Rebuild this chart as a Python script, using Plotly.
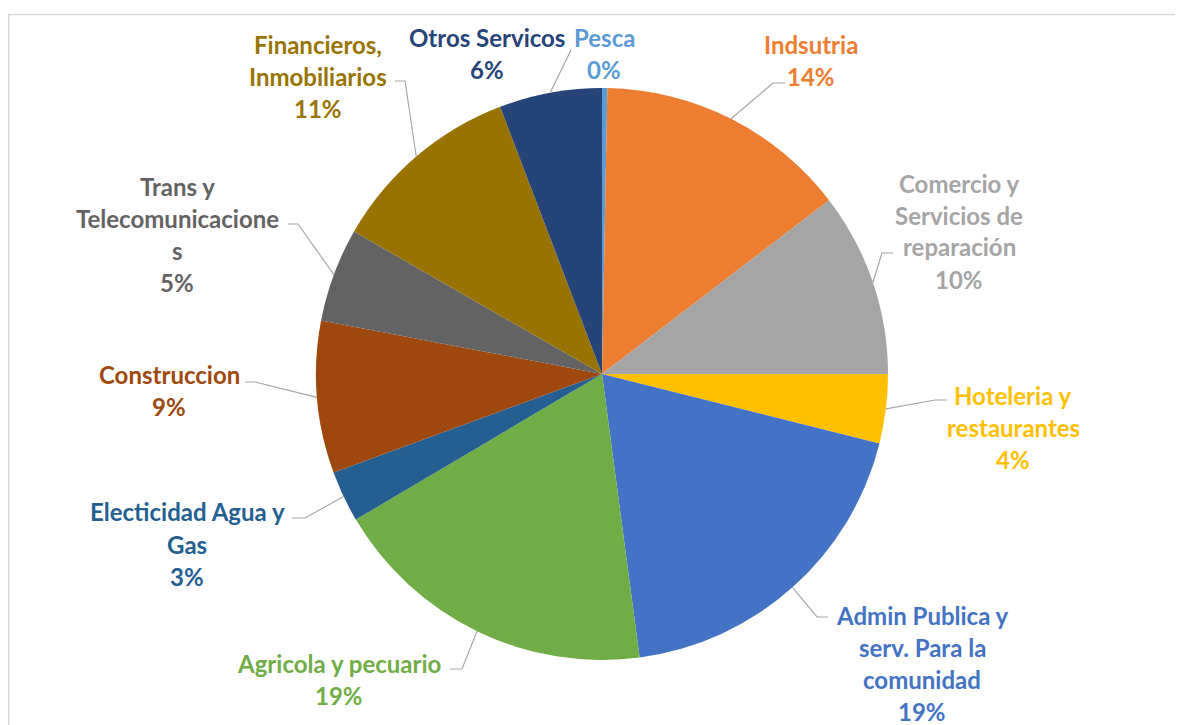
import math
import plotly.graph_objects as go

# ---------------- data ----------------
categories = ["Pesca", "Indsutria", "Comercio y Servicios de reparación",
              "Hoteleria y restaurantes", "Admin Publica y serv. Para la comunidad",
              "Agricola y pecuario", "Electicidad Agua y Gas", "Construccion",
              "Trans y Telecomunicaciones", "Financieros, Inmobiliarios", "Otros Servicos"]
values = [0.3, 14.3, 10.4, 3.9, 19.0, 18.6, 2.9, 8.6, 5.3, 10.9, 5.8]
colors = ["#5B9BD5", "#ED7D31", "#A5A5A5", "#FFC000", "#4472C4", "#70AD47",
          "#255E91", "#9E480E", "#636363", "#997300", "#264478"]
# wrapped label lines as shown in the chart
label_lines = [
    ["Pesca"],
    ["Indsutria"],
    ["Comercio y", "Servicios de", "reparación"],
    ["Hoteleria y", "restaurantes"],
    ["Admin Publica y", "serv. Para la", "comunidad"],
    ["Agricola y pecuario"],
    ["Electicidad Agua y", "Gas"],
    ["Construccion"],
    ["Trans y", "Telecomunicacione", "s"],
    ["Financieros,", "Inmobiliarios"],
    ["Otros Servicos"],
]

# ---------------- layout (window pixels) ----------------
WIN_W, WIN_H = 1183, 725
PAGE_OFF = 8                      # default body margin of the page
W, H = WIN_W - PAGE_OFF, WIN_H - PAGE_OFF
CX, CY, R = 602, 374, 286
LINE_H = 32
# label block: (center x, first line y)
label_pos = [(604, 37), (811, 45), (959, 183), (1013, 395), (922, 615), (339, 663),
             (187, 512), (169, 375), (177, 186), (318, 44), (487, 37)]
# leader lines: (elbow x, elbow y, end x, end y) or None
leaders = [None, (773, 83, 785, 83), (882, 253, 893, 253), (935, 400, 947, 400),
           (817, 617, 828, 617), (462, 669, 450, 669), (305, 518, 292, 518),
           (255, 382, 245, 382), (298, 224, 288, 224), (405, 81, 395, 81),
           (571, 50, 571, 50)]


def X(x):
    return (x - PAGE_OFF) / W


def Y(y):
    return 1 - (y - PAGE_OFF) / H


fig = go.Figure(go.Pie(
    labels=categories, values=values, sort=False, direction="clockwise", rotation=0,
    marker=dict(colors=colors, line=dict(width=0)),
    textinfo="none", hoverinfo="label+percent", showlegend=False,
    domain=dict(x=[X(CX - R), X(CX + R)], y=[Y(CY + R), Y(CY - R)]),
))

total = sum(values)
annotations = []
shapes = []
cum = 0.0
for i, v in enumerate(values):
    theta = 2 * math.pi * (cum + v / 2) / total
    cum += v
    pct = f"{round(v / total * 100)}%"
    lines = label_lines[i] + [pct]
    cx, y0 = label_pos[i]
    for k, t in enumerate(lines):
        annotations.append(dict(
            x=X(cx), y=Y(y0 + k * LINE_H), xref="paper", yref="paper",
            text=t, showarrow=False, xanchor="center", yanchor="middle",
            font=dict(family="Lato", size=24, color=colors[i], weight="bold"),
        ))
    if leaders[i] is not None:
        px = CX + R * math.sin(theta)
        py = CY - R * math.cos(theta)
        ex, ey, tx, ty = leaders[i]
        shapes.append(dict(
            type="path", xref="paper", yref="paper",
            path=f"M {X(px)},{Y(py)} L {X(ex)},{Y(ey)} L {X(tx)},{Y(ty)}",
            line=dict(color="#A6A6A6", width=1.2),
        ))

# chart frame
shapes.append(dict(type="rect", xref="paper", yref="paper",
                   x0=X(8.7), x1=X(1200), y0=Y(740), y1=Y(14.5),
                   line=dict(color="#D9D9D9", width=1.5), fillcolor="rgba(0,0,0,0)"))

fig.update_layout(
    width=W, height=H, margin=dict(l=0, r=0, t=0, b=0),
    paper_bgcolor="white", plot_bgcolor="white",
    annotations=annotations, shapes=shapes,
)
fig.write_html("out.html")
